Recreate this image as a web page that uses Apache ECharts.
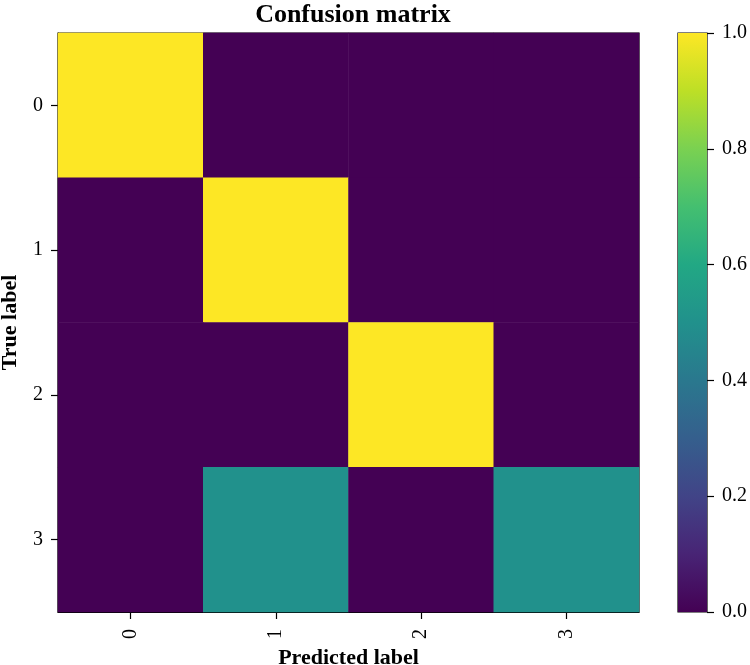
<!DOCTYPE html>
<html>
<head>
<meta charset="utf-8">
<script src="https://cdn.jsdelivr.net/npm/echarts@6/dist/echarts.min.js"></script>
<style>
  html, body { margin: 0; padding: 0; background: #fff; }
  #main { width: 750px; height: 665px; }
</style>
</head>
<body>
<div id="main"></div>
<script>
// 标签与数据
var predLabels = ['0', '1', '2', '3'];
var trueLabels = ['0', '1', '2', '3'];
var matrix = [
	[1.0, 0.0, 0.0, 0.0],
	[0.0, 1.0, 0.0, 0.0],
	[0.0, 0.0, 1.0, 0.0],
	[0.0, 0.5, 0.0, 0.5]
];
var viridis = ['#440154', '#482475', '#414487', '#355f8d', '#2a788e', '#21918c',
	'#22a884', '#44bf70', '#7ad151', '#bddf26', '#fde725'];

var FONT = '"Liberation Serif", "DejaVu Serif", serif';

var cells = [];
for (var i = 0; i < matrix.length; i++) {
	for (var j = 0; j < matrix[i].length; j++) {
		cells.push([j, i, matrix[i][j]]);
	}
}

// 色条渐变 (上黄下紫)
var stops = viridis.map(function (c, k) {
	return { offset: 1 - k / (viridis.length - 1), color: c };
});

var tickStyle = { show: true, length: 7, lineStyle: { color: '#000', width: 1.2 } };
var nameStyle = { fontFamily: FONT, fontSize: 22, fontWeight: 'bold', color: '#000' };

var chart = echarts.init(document.getElementById('main'));
chart.setOption({
	animation: false,
	title: {
		text: 'Confusion matrix',
		left: 348,
		top: -3,
		textAlign: 'center',
		textStyle: { fontFamily: FONT, fontSize: 26, fontWeight: 'bold', color: '#000' }
	},
	grid: [
		{ left: 58, top: 33, width: 581, height: 579, show: true, borderColor: '#000', borderWidth: 1.2,
			backgroundColor: 'transparent', outerBoundsMode: 'none', containLabel: false },
		{ left: 678, top: 33, width: 29, height: 579, show: true, borderColor: '#000', borderWidth: 1.2,
			backgroundColor: 'transparent', outerBoundsMode: 'none', containLabel: false }
	],
	xAxis: [
		{
			type: 'category', gridIndex: 0, data: predLabels,
			name: 'Predicted label', nameLocation: 'middle', nameGap: 28,
			nameTextStyle: nameStyle,
			axisLine: { show: true, lineStyle: { color: '#000', width: 1.2 } },
			axisTick: Object.assign({ alignWithLabel: true }, tickStyle),
			axisLabel: { rotate: 90, margin: 17, fontFamily: FONT, fontSize: 20, color: '#000' },
			splitLine: { show: false }
		},
		{
			type: 'category', gridIndex: 1, data: [''],
			axisLine: { show: false }, axisTick: { show: false }, axisLabel: { show: false }
		}
	],
	yAxis: [
		{
			type: 'category', gridIndex: 0, data: trueLabels, inverse: true,
			name: 'True label', nameLocation: 'middle', nameGap: 37,
			nameTextStyle: nameStyle,
			axisLine: { show: true, lineStyle: { color: '#000', width: 1.2 } },
			axisTick: Object.assign({ alignWithLabel: true }, tickStyle),
			axisLabel: { margin: 15, fontFamily: FONT, fontSize: 20, color: '#000' },
			splitLine: { show: false }
		},
		{
			type: 'value', gridIndex: 1, position: 'right', min: 0, max: 1, interval: 0.2,
			axisLine: { show: false },
			axisTick: tickStyle,
			axisLabel: {
				margin: 15, fontFamily: FONT, fontSize: 20, color: '#000',
				formatter: function (v) { return v.toFixed(1); }
			},
			splitLine: { show: false }
		}
	],
	visualMap: {
		show: false, type: 'continuous', min: 0, max: 1, seriesIndex: 0,
		inRange: { color: viridis }
	},
	series: [
		{
			type: 'heatmap', xAxisIndex: 0, yAxisIndex: 0, data: cells,
			itemStyle: { borderWidth: 0 },
			emphasis: { disabled: true }
		},
		{
			type: 'bar', xAxisIndex: 1, yAxisIndex: 1, data: [1],
			barWidth: '100%', silent: true,
			itemStyle: { color: new echarts.graphic.LinearGradient(0, 0, 0, 1, stops) }
		}
	]
});
</script>
</body>
</html>
